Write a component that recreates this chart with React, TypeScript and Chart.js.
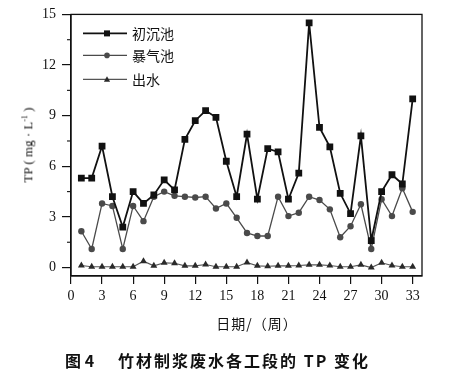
import React, { useEffect, useRef } from 'react';
import { Chart, registerables } from 'chart.js';

Chart.register(...registerables);

// ---- data ----
const weeks = [1, 2, 3, 4, 5, 6, 7, 8, 9, 10, 11, 12, 13, 14, 15, 16, 17, 18, 19, 20, 21, 22, 23, 24, 25, 26, 27, 28, 29, 30, 31, 32, 33];
const seriesNames = ['初沉池', '暴气池', '出水'];
const chuchen = [5.3, 5.3, 7.2, 4.2, 2.4, 4.5, 3.8, 4.3, 5.2, 4.6, 7.6, 8.7, 9.3, 8.9, 6.3, 4.2, 7.9, 4.05, 7.05, 6.85, 4.05, 5.6, 14.5, 8.3, 7.15, 4.4, 3.2, 7.8, 1.6, 4.5, 5.5, 4.95, 10.0];
const baoqi = [2.15, 1.1, 3.8, 3.65, 1.1, 3.65, 2.75, 4.2, 4.5, 4.25, 4.2, 4.15, 4.2, 3.5, 3.8, 2.95, 2.05, 1.87, 1.87, 4.2, 3.05, 3.25, 4.2, 4.0, 3.45, 1.8, 2.45, 3.75, 1.1, 4.05, 3.05, 4.7, 3.3];
const chushui = [0.12, 0.05, 0.05, 0.05, 0.05, 0.05, 0.38, 0.1, 0.28, 0.26, 0.1, 0.1, 0.18, 0.05, 0.05, 0.05, 0.3, 0.1, 0.08, 0.1, 0.1, 0.12, 0.16, 0.16, 0.12, 0.05, 0.05, 0.16, 0.0, 0.28, 0.12, 0.05, 0.05];
const xTicks = [0, 3, 6, 9, 12, 15, 18, 21, 24, 27, 30, 33];
const yTicks = [0, 3, 6, 9, 12, 15];
const yMinorTicks = [1.5, 4.5, 7.5, 10.5, 13.5];
const xTitle = '日期/（周）';
const captionLabel = '图 4';
const captionText = '竹材制浆废水各工段的 TP 变化';

const W = 471;
const H = 377;

const lineColors = ['#111111', '#4a4a4a', '#555555'];
const markerColors = ['#111111', '#4a4a4a', '#2a2a2a'];
const markerStyles = ['rect', 'circle', 'triangle'];

function drawMarker(ctx: CanvasRenderingContext2D, style: string, x: number, y: number, r: number) {
  ctx.beginPath();
  if (style === 'rect') {
    ctx.rect(x - r, y - r, 2 * r, 2 * r);
  } else if (style === 'circle') {
    ctx.arc(x, y, r, 0, Math.PI * 2);
  } else {
    ctx.moveTo(x, y - r * 1.1);
    ctx.lineTo(x + r * 1.1, y + r * 0.8);
    ctx.lineTo(x - r * 1.1, y + r * 0.8);
    ctx.closePath();
  }
  ctx.fill();
}

const framePlugin = {
  id: 'frameLegend',
  afterDraw(chart: any) {
    const { ctx, chartArea: a, scales } = chart;
    ctx.save();
    ctx.strokeStyle = '#111';
    ctx.lineWidth = 1.3;
    ctx.strokeRect(a.left, a.top, a.right - a.left, a.bottom - a.top);
    // minor ticks on y axis
    ctx.lineWidth = 1.1;
    yMinorTicks.forEach((v) => {
      const p = scales.y.getPixelForValue(v);
      ctx.beginPath();
      ctx.moveTo(a.left - 4, p);
      ctx.lineTo(a.left, p);
      ctx.stroke();
    });
    // legend inside plot
    const rows = [19, 41, 65];
    seriesNames.forEach((name, i) => {
      const y = a.top + rows[i];
      ctx.strokeStyle = lineColors[i];
      ctx.lineWidth = i === 0 ? 1.8 : 1.3;
      ctx.beginPath();
      ctx.moveTo(a.left + 12, y);
      ctx.lineTo(a.left + 56, y);
      ctx.stroke();
      ctx.fillStyle = markerColors[i];
      drawMarker(ctx, markerStyles[i], a.left + 36, y, i === 0 ? 3 : 2.8);
      ctx.fillStyle = '#111';
      ctx.font = '14px "Noto Sans CJK SC", sans-serif';
      ctx.textBaseline = 'middle';
      ctx.textAlign = 'left';
      ctx.fillText(name, a.left + 61, y);
    });
    ctx.restore();
  },
};

export default function App() {
  const ref = useRef<HTMLCanvasElement | null>(null);

  useEffect(() => {
    if (!ref.current) return;
    const mk = (vals: number[]) => weeks.map((w, i) => ({ x: w, y: vals[i] }));
    const chart = new Chart(ref.current, {
      type: 'line',
      data: {
        datasets: [
          {
            label: seriesNames[0],
            data: mk(chuchen),
            borderColor: lineColors[0],
            backgroundColor: markerColors[0],
            borderWidth: 1.8,
            pointStyle: 'rect',
            pointRadius: 4.8,
            pointBorderWidth: 0,
            tension: 0,
            order: 1,
          },
          {
            label: seriesNames[1],
            data: mk(baoqi),
            borderColor: lineColors[1],
            backgroundColor: markerColors[1],
            borderWidth: 1.3,
            pointStyle: 'circle',
            pointRadius: 3.2,
            pointBorderWidth: 0,
            tension: 0,
            order: 2,
          },
          {
            label: seriesNames[2],
            data: mk(chushui),
            borderColor: lineColors[2],
            backgroundColor: markerColors[2],
            borderWidth: 1.1,
            pointStyle: 'triangle',
            pointRadius: 4,
            pointBorderWidth: 0,
            tension: 0,
            order: 3,
          },
        ],
      },
      options: {
        animation: false,
        responsive: false,
        devicePixelRatio: 1,
        layout: { padding: { top: 14, right: W - 422, left: 0, bottom: 0 } },
        plugins: {
          legend: { display: false },
          tooltip: { enabled: false },
          title: { display: false },
        },
        scales: {
          x: {
            type: 'linear',
            min: 0,
            max: 33.9,
            afterBuildTicks: (s: any) => {
              s.ticks = xTicks.map((v) => ({ value: v }));
            },
            afterFit: (s: any) => {
              s.height = H - 276;
            },
            ticks: {
              color: '#111',
              font: { family: '"Liberation Serif", serif', size: 14 },
              padding: 4,
              maxRotation: 0,
              autoSkip: false,
            },
            grid: {
              display: true,
              drawOnChartArea: false,
              drawTicks: true,
              tickLength: 8,
              color: '#111',
              lineWidth: 1.2,
            },
            border: { display: true, color: '#111', width: 1.3 },
          },
          y: {
            type: 'linear',
            min: -0.5,
            max: 15,
            afterBuildTicks: (s: any) => {
              s.ticks = yTicks.map((v) => ({ value: v }));
            },
            afterFit: (s: any) => {
              s.width = 71;
            },
            ticks: {
              color: '#111',
              font: { family: '"Liberation Serif", serif', size: 14 },
              padding: 6,
            },
            grid: {
              display: true,
              drawOnChartArea: false,
              drawTicks: true,
              tickLength: 9,
              color: '#111',
              lineWidth: 1.2,
            },
            border: { display: true, color: '#111', width: 1.3 },
          },
        },
      },
      plugins: [framePlugin],
    });
    return () => chart.destroy();
  }, []);

  return (
    <div style={{ position: 'fixed', left: 0, top: 0, width: W, height: H, background: '#fff', overflow: 'hidden' }}>
      <canvas ref={ref} width={W} height={H} style={{ position: 'absolute', left: 0, top: 0, width: W, height: H }} />
      <div
        style={{
          position: 'absolute',
          left: 28,
          top: 145,
          transform: 'translate(-50%, -50%) rotate(-90deg)',
          whiteSpace: 'nowrap',
          fontFamily: '"Liberation Serif", serif',
          fontSize: 13,
          color: '#111',
          lineHeight: 1,
        }}
      >
        TP ( mg · L<sup style={{ fontSize: 8 }}>-1</sup> )
      </div>
      <div
        style={{
          position: 'absolute',
          left: 257,
          top: 323,
          transform: 'translate(-50%, -50%)',
          whiteSpace: 'nowrap',
          fontFamily: '"Noto Sans CJK SC", sans-serif',
          fontSize: 14,
          letterSpacing: 1,
          color: '#111',
          lineHeight: 1,
        }}
      >
        {xTitle}
      </div>
      <div
        style={{
          position: 'absolute',
          left: 65,
          top: 360,
          transform: 'translateY(-50%)',
          whiteSpace: 'nowrap',
          fontFamily: '"Noto Sans CJK SC", sans-serif',
          fontWeight: 700,
          fontSize: 16,
          color: '#111',
          lineHeight: 1,
        }}
      >
        <span style={{ display: 'inline-block', width: 53 }}>{captionLabel}</span>
        <span style={{ letterSpacing: 2 }}>{captionText}</span>
      </div>
    </div>
  );
}
